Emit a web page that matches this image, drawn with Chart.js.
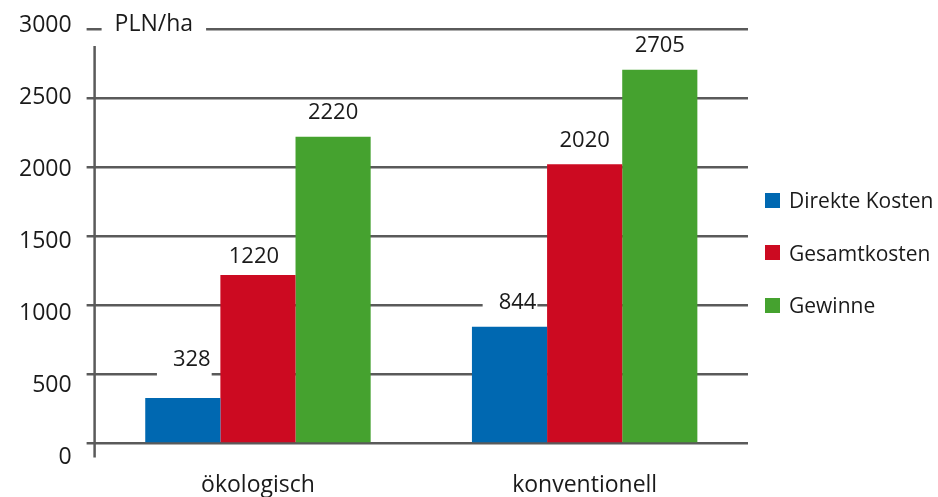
<!DOCTYPE html>
<html>
<head>
<meta charset="utf-8">
<script src="https://cdn.jsdelivr.net/npm/chart.js@4.4.1/dist/chart.umd.min.js"></script>
<style>
  html, body { margin: 0; padding: 0; background: #fff; }
  #wrap { position: relative; width: 938px; height: 497px; }
  #legend { position: absolute; left: 765px; top: 187px; margin: 0; padding: 0; list-style: none;
            font: 21px "Open Sans", sans-serif; color: #1a1a1a; }
  #legend li { display: flex; align-items: center; height: 26px; margin-bottom: 26.5px; white-space: nowrap; }
  #legend .box { display: inline-block; width: 15px; height: 15px; margin-right: 9px; }
</style>
</head>
<body>
<div id="wrap">
  <canvas id="barChart"></canvas>
  <ul id="legend"></ul>
</div>
<script>
const categories = ['ökologisch', 'konventionell'];
const seriesNames = ['Direkte Kosten', 'Gesamtkosten', 'Gewinne'];
const directCosts = [328, 844];
const totalCosts = [1220, 2020];
const profits = [2220, 2705];
const yTicks = [0, 500, 1000, 1500, 2000, 2500, 3000];
const unitLabel = 'PLN/ha';

const seriesColors = ['#0068b1', '#cc0a21', '#45a22f'];
const gridColor = '#5a5a5a';
const textColor = '#1a1a1a';
const fontFamily = '"Open Sans", sans-serif';

// value labels: how far above the bar top / sideways they sit, per series and category
const labelLift = [[38, 24], [18, 24], [24, 24]];
const labelShift = [[9, 8], [-4, 0], [0, 0]];

Chart.defaults.font.family = fontFamily;
Chart.defaults.font.size = 23;
Chart.defaults.color = textColor;

// tick numbers are spread a little wider than the grid (4px above the top line, 14px below the zero line)
const areaHeight = 414;
const labelRange = 3000 * areaHeight / (areaHeight + 18);
const labelMin = 14 * labelRange / areaHeight;

function eachLabel(chart, fn) {
    const ctx = chart.ctx;
    ctx.save();
    ctx.font = '22px ' + fontFamily;
    chart.data.datasets.forEach((ds, i) => {
        chart.getDatasetMeta(i).data.forEach((bar, j) => {
            const text = String(ds.data[j]);
            const w = ctx.measureText(text).width;
            fn(ctx, text, bar.x + labelShift[i][j], bar.y - labelLift[i][j], w);
        });
    });
    ctx.restore();
}

const decorations = {
    id: 'decorations',
    beforeDatasetsDraw(chart) {
        const {ctx, chartArea} = chart;
        const yScale = chart.scales.y;
        ctx.save();
        // white patches behind the value labels, cutting the gridlines
        eachLabel(chart, (c, text, x, y, w) => {
            c.fillStyle = '#fff';
            c.fillRect(x - w / 2 - 16, y - 11, w + 17, 28);
        });
        // unit label sitting in a gap of the top gridline
        const topY = yScale.getPixelForValue(3000);
        ctx.font = '23px ' + fontFamily;
        const tw = ctx.measureText(unitLabel).width;
        const tx = chartArea.left + 20;
        ctx.fillStyle = '#fff';
        ctx.fillRect(tx - 13, topY - 4, tw + 26, 8);
        ctx.fillStyle = textColor;
        ctx.textBaseline = 'middle';
        ctx.fillText(unitLabel, tx, topY - 5);
        // vertical axis line, starting below the top line and running past the zero line
        ctx.strokeStyle = gridColor;
        ctx.lineWidth = 2.5;
        ctx.beginPath();
        ctx.moveTo(chartArea.left, chartArea.top + 17);
        ctx.lineTo(chartArea.left, chartArea.bottom + 14);
        ctx.stroke();
        ctx.restore();
    },
    afterDatasetsDraw(chart) {
        eachLabel(chart, (c, text, x, y) => {
            c.fillStyle = textColor;
            c.textAlign = 'center';
            c.textBaseline = 'middle';
            c.fillText(text, x, y);
        });
    }
};

const barData = {
    labels: categories,
    datasets: [directCosts, totalCosts, profits].map((values, i) => ({
        label: seriesNames[i],
        data: values,
        backgroundColor: seriesColors[i],
        barPercentage: 1,
        categoryPercentage: 0.69
    }))
};

const ctx = document.getElementById('barChart').getContext('2d');
const barChart = new Chart(ctx, {
    type: 'bar',
    data: barData,
    plugins: [decorations],
    options: {
        responsive: true,
        maintainAspectRatio: false,
        animation: false,
        // the x tick padding is counted twice in the axis height, the bottom padding takes it back
        layout: { padding: { left: 4, right: 190, top: 29, bottom: -30 } },
        scales: {
            x: {
                grid: { display: false, drawTicks: false },
                border: { display: false },
                ticks: { padding: 28, color: textColor }
            },
            y: {
                min: 0,
                max: 3000,
                weight: 0,
                ticks: { display: false, stepSize: 500 },
                grid: { color: gridColor, lineWidth: 2.5, tickLength: 8, drawTicks: true },
                border: { display: false }
            },
            yl: {
                position: 'left',
                weight: 1,
                min: labelMin,
                max: labelMin + labelRange,
                grid: { display: false, drawTicks: false },
                border: { display: false },
                afterBuildTicks: scale => { scale.ticks = yTicks.map(v => ({ value: v })); },
                ticks: { padding: 15, color: textColor, callback: v => String(v) }
            }
        },
        plugins: {
            legend: { display: false },
            tooltip: { enabled: false }
        }
    }
});

// legend list beside the plot
const legend = document.getElementById('legend');
seriesNames.forEach((name, i) => {
    const li = document.createElement('li');
    const box = document.createElement('span');
    box.className = 'box';
    box.style.background = seriesColors[i];
    li.appendChild(box);
    li.appendChild(document.createTextNode(name));
    legend.appendChild(li);
});
</script>
</body>
</html>
